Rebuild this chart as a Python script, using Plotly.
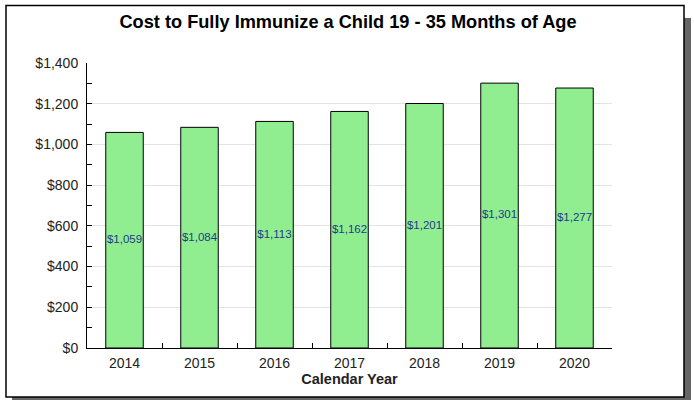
import plotly.graph_objects as go

years = ["2014", "2015", "2016", "2017", "2018", "2019", "2020"]
costs = [1059, 1084, 1113, 1162, 1201, 1301, 1277]
cost_labels = ["$1,059", "$1,084", "$1,113", "$1,162", "$1,201", "$1,301", "$1,277"]
y_tickvals = [0, 200, 400, 600, 800, 1000, 1200, 1400]
y_ticktext = ["$0", "$200", "$400", "$600", "$800", "$1,000", "$1,200", "$1,400"]

W, H = 694, 400
L, R, T, B = 87, 82, 63, 52
pw = W - L - R
ph = H - T - B

def px(x):
    return (x - L) / pw

def py(y):
    return (H - B - y) / ph

FONT = "Liberation Sans, Arial"

fig = go.Figure()
fig.add_trace(go.Bar(
    x=years, y=costs, width=0.5,
    marker=dict(color="#90EE90", line=dict(color="#000000", width=1)),
    hoverinfo="skip", showlegend=False,
))
fig.add_trace(go.Scatter(
    x=years, y=[c / 2 for c in costs], text=cost_labels,
    mode="text", textposition="middle center",
    textfont=dict(family=FONT, size=11.5, color="#1F3B8C"),
    hoverinfo="skip", showlegend=False,
))

shapes = [
    # shadow right & bottom
    dict(type="rect", xref="paper", yref="paper", x0=px(684), x1=px(691), y0=py(18), y1=py(402),
         fillcolor="#666666", line=dict(width=0), layer="below"),
    dict(type="rect", xref="paper", yref="paper", x0=px(12), x1=px(691), y0=py(397), y1=py(402),
         fillcolor="#666666", line=dict(width=0), layer="below"),
    # frame
    dict(type="rect", xref="paper", yref="paper", x0=px(6), x1=px(684), y0=py(5.5), y1=py(397),
         fillcolor="rgba(0,0,0,0)", line=dict(color="#000000", width=1.5), layer="below"),
]

fig.update_layout(
    width=W, height=H,
    margin=dict(l=L, r=R, t=T, b=B, pad=0),
    paper_bgcolor="#FFFFFF", plot_bgcolor="#FFFFFF",
    font=dict(family=FONT, size=14, color="#222222"),
    title=dict(text="<b>Cost to Fully Immunize a Child 19 - 35 Months of Age</b>",
               x=px(348), xref="paper", xanchor="center",
               y=1 - 22 / H, yref="container", yanchor="middle",
               font=dict(size=18.2, color="#000000")),
    shapes=shapes,
)
fig.update_xaxes(
    type="category", showline=True, linecolor="#000000", linewidth=1,
    ticks="inside", tickson="boundaries", ticklen=5, tickcolor="#000000",
    showgrid=False, mirror=False,
    tickfont=dict(size=14, color="#222222"),
    ticklabelstandoff=2,
    title=dict(text="<b>Calendar Year</b>", font=dict(size=14.5, color="#222222"), standoff=0),
    range=[-0.5, 6.5],
)
fig.update_yaxes(
    range=[0, 1400], tickvals=y_tickvals, ticktext=y_ticktext,
    showline=True, linecolor="#000000", linewidth=1,
    ticks="inside", ticklen=5, tickcolor="#000000",
    minor=dict(dtick=100, ticks="inside", ticklen=5, tickcolor="#000000", showgrid=False),
    showgrid=True, gridcolor="#E3E3E3", gridwidth=1,
    zeroline=False,
    tickfont=dict(size=14, color="#222222"),
    ticklabelstandoff=5,
)

fig.write_html("out.html", config={"displayModeBar": False},
               post_script="document.body.style.margin='0';document.body.style.overflow='hidden';")
